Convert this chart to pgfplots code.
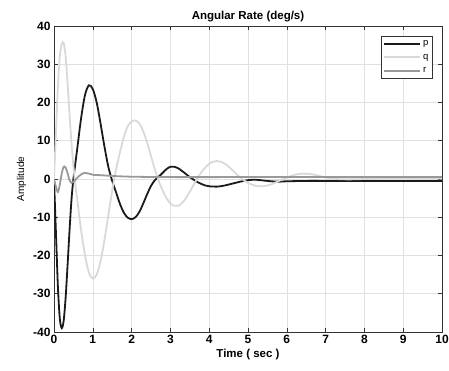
\documentclass[border=0pt]{standalone}
\usepackage{pgfplots}
\pgfplotsset{compat=1.18}
\usepackage{fontspec}
\setmainfont{Liberation Sans}
\definecolor{pcol}{HTML}{1A1A1A}
\definecolor{qcol}{HTML}{D9D9D9}
\definecolor{rcol}{HTML}{999999}
\begin{document}
\begin{tikzpicture}
\begin{axis}[
  scale only axis,
  width=388pt, height=306pt,
  xmin=0, xmax=10, ymin=-40, ymax=40,
  xtick={0,1,...,10}, ytick={-40,-30,...,40},
  tick align=inside, major tick length=4pt,
  xtick pos=both, ytick pos=both,
  grid=major,
  major grid style={draw=black!12, line width=0.6pt},
  axis line style={draw=black!80, line width=0.8pt},
  tick style={draw=black!80, line width=0.6pt},
  /pgf/number format/assume math mode=true,
  ticklabel style={font=\fontsize{12}{13}\selectfont\bfseries},
  title={\bfseries Angular Rate (deg/s)},
  title style={font=\fontsize{11.5}{12}\selectfont, yshift=-5pt},
  xlabel={\bfseries Time ( sec )},
  xlabel style={font=\fontsize{11.5}{12}\selectfont, yshift=2pt},
  ylabel={Amplitude},
  ylabel style={font=\fontsize{10}{12}\selectfont, yshift=0pt},
  legend style={at={(0.976,0.967)}, anchor=north east, draw=black!80, line width=0.6pt,
    font=\fontsize{9.5}{10}\selectfont, inner xsep=2pt, inner ysep=2pt, row sep=3pt},
  legend cell align=left,
  legend image code/.code={\draw[#1, line width=2pt] (0pt,0pt) -- (36pt,0pt);},
]
\addplot[color=pcol, line width=1.8pt, smooth] coordinates {
(0,0) (0.05,-14) (0.1,-28) (0.15,-36.5) (0.2,-39) (0.25,-37) (0.3,-31) (0.35,-22.5) (0.4,-13.5) (0.45,-5.5) (0.5,0)
(0.6,8) (0.7,16) (0.8,22) (0.9,24.5) (1.0,23.5) (1.1,20) (1.2,14.5) (1.3,8.5) (1.4,3.2) (1.5,-0.5)
(1.6,-3.5) (1.7,-6.5) (1.8,-8.8) (1.9,-10.1) (2.0,-10.5) (2.1,-10) (2.2,-8.6) (2.3,-6.4) (2.4,-4) (2.5,-1.8) (2.6,-0.3)
(2.7,0.6) (2.8,1.6) (2.9,2.6) (3.0,3.2) (3.1,3.2) (3.2,2.8) (3.3,2.1) (3.4,1.3) (3.5,0.5) (3.6,-0.2)
(3.7,-0.8) (3.8,-1.3) (3.9,-1.7) (4.0,-1.9) (4.2,-2.0) (4.4,-1.7) (4.6,-1.2) (4.8,-0.7) (5.0,-0.3) (5.2,-0.2)
(5.4,-0.4) (5.6,-0.6) (5.8,-0.7) (6.0,-0.6) (6.5,-0.5) (7,-0.5) (8,-0.5) (9,-0.5) (10,-0.5)
};
\addlegendentry{p}
\addplot[color=qcol, line width=1.8pt, smooth] coordinates {
(0,0) (0.05,12) (0.1,24) (0.15,32) (0.2,35.3) (0.25,35.5) (0.3,32) (0.35,25) (0.4,17) (0.45,9.5) (0.5,3.5) (0.55,-1.5)
(0.6,-5.5) (0.7,-13.5) (0.8,-20) (0.9,-24.5) (1.0,-26) (1.1,-25) (1.2,-21.5) (1.3,-16) (1.4,-9.5) (1.5,-3) (1.55,0)
(1.6,2.5) (1.7,7) (1.8,11) (1.9,13.8) (2.0,15) (2.1,15.3) (2.2,14.5) (2.3,12.5) (2.4,9.5) (2.5,6) (2.6,2.5)
(2.7,-0.5) (2.8,-3) (2.9,-5) (3.0,-6.4) (3.1,-7) (3.2,-7) (3.3,-6.3) (3.4,-5) (3.5,-3.3) (3.6,-1.5)
(3.7,0.3) (3.8,1.8) (3.9,3) (4.0,4) (4.1,4.5) (4.2,4.7) (4.3,4.5) (4.4,4) (4.5,3.2) (4.6,2.3) (4.7,1.3)
(4.8,0.4) (4.9,-0.4) (5.0,-1) (5.2,-1.8) (5.4,-1.9) (5.6,-1.4) (5.8,-0.5) (6.0,0.4) (6.2,1.1) (6.4,1.4)
(6.6,1.3) (6.8,0.9) (7.0,0.4) (7.3,0) (7.6,-0.1) (8,0) (8.5,0.2) (9,0.2) (10,0.1)
};
\addlegendentry{q}
\addplot[color=rcol, line width=1.8pt, smooth] coordinates {
(0,0) (0.05,-2) (0.1,-3.4) (0.15,-1.5) (0.2,1.5) (0.25,3.2) (0.3,3) (0.35,1.5) (0.4,-0.3) (0.45,-1) (0.5,-0.8)
(0.6,0.3) (0.7,1.2) (0.8,1.6) (0.9,1.4) (1.0,1.1) (1.2,1.0) (1.5,0.8) (2,0.6) (3,0.5) (5,0.5) (7,0.5) (10,0.5)
};
\addlegendentry{r}
\end{axis}
\pgfresetboundingbox
\path ([xshift=-54pt,yshift=-39pt]current axis.south west) rectangle ([xshift=7pt,yshift=26pt]current axis.north east);
\end{tikzpicture}
\end{document}
